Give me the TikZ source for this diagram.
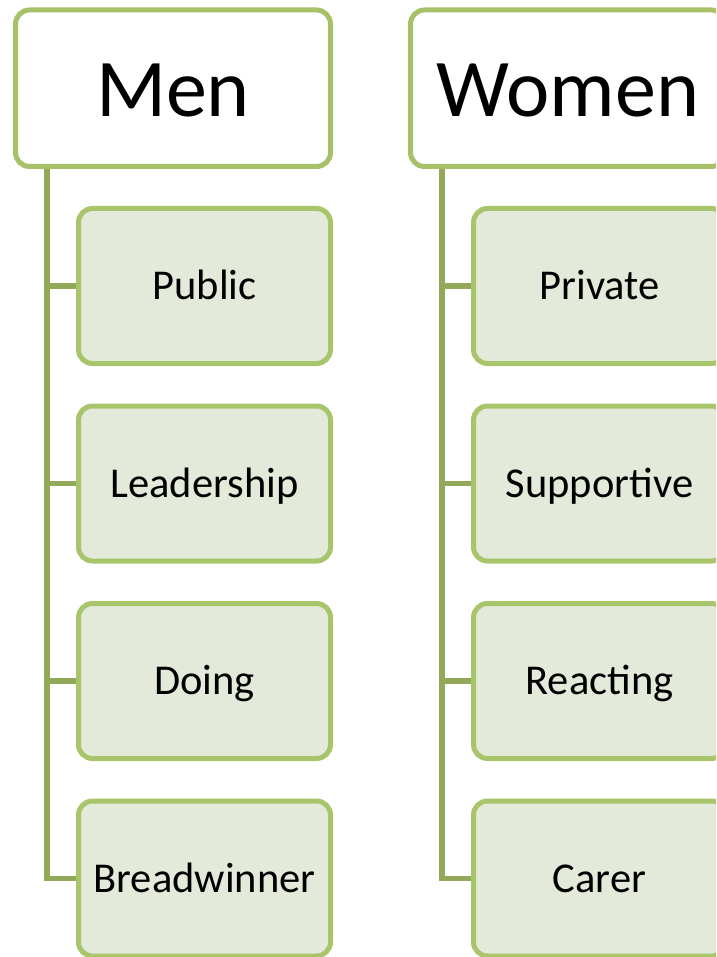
\documentclass[tikz,border=0pt]{standalone}
\usepackage{fontspec}
\setmainfont{Carlito}
\usetikzlibrary{backgrounds}
\definecolor{headline}{RGB}{166,193,104}
\definecolor{itemline}{RGB}{169,197,108}
\definecolor{itemfill}{RGB}{227,234,218}
\definecolor{branch}{RGB}{146,169,90}
\tikzset{
  head/.style={draw=headline, fill=white, line width=5pt, rounded corners=14pt,
    minimum width=315pt, minimum height=156.5pt, inner sep=0pt,
    text height=53pt, text depth=0pt,
    font=\fontsize{82}{82}\selectfont},
  item/.style={draw=itemline, fill=itemfill, line width=5pt, rounded corners=14pt,
    minimum width=252pt, minimum height=155pt, inner sep=0pt,
    text height=27pt, text depth=0pt,
    font=\fontsize{42.5}{42.5}\selectfont},
  branchline/.style={draw=branch, line width=5.3pt}
}
\begin{document}
\begin{tikzpicture}[x=1pt, y=-1pt]
  \useasboundingbox (0,0) rectangle (716,957);
  \clip (0,0) rectangle (716,957);

  % column: Men
  \node[head] (men) at (173,88.25) {\raisebox{-2pt}{Men}};
  \node[item] (public) at (204.5,286)   {Public};
  \node[item] (lead)   at (204.5,483.5) {Leadership};
  \node[item] (doing)  at (204.5,681)   {Doing};
  \node[item] (bread)  at (204.5,878.5) {Breadwinner};
  \coordinate (mtrunk) at (47,166.5);

  % column: Women
  \node[head] (women) at (568,88.25) {\raisebox{-2pt}{Women}};
  \node[item] (private) at (599.5,286)   {Private};
  \node[item] (support) at (599.5,483.5) {Supportive};
  \node[item] (react)   at (599.5,681)   {Reacting};
  \node[item] (carer)   at (599.5,878.5) {Carer};
  \coordinate (wtrunk) at (442,166.5);

  \begin{scope}[on background layer]
    \draw[branchline] (mtrunk) |- (bread.west);
    \foreach \c in {public,lead,doing}
      \draw[branchline] (mtrunk |- \c.west) -- (\c.west);
    \draw[branchline] (wtrunk) |- (carer.west);
    \foreach \c in {private,support,react}
      \draw[branchline] (wtrunk |- \c.west) -- (\c.west);
  \end{scope}
\end{tikzpicture}
\end{document}
